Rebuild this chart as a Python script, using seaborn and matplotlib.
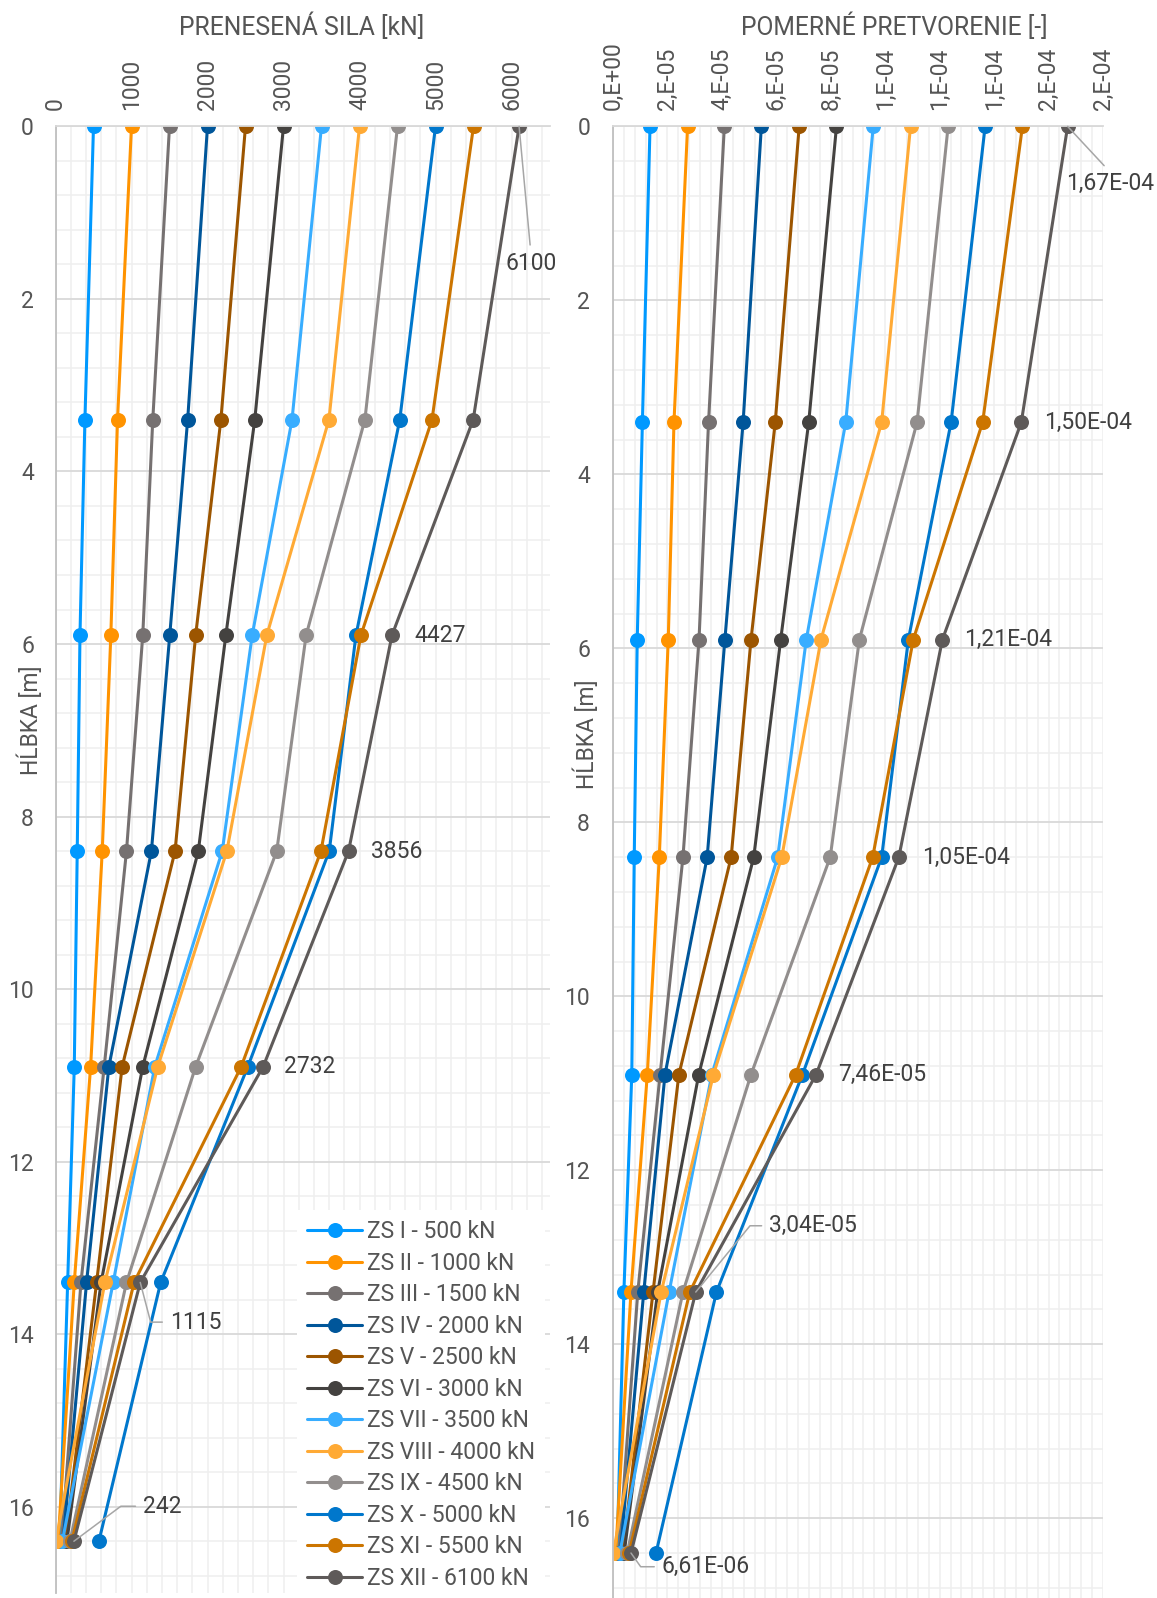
import matplotlib
matplotlib.use("Agg")
import matplotlib.pyplot as plt
from matplotlib.ticker import MultipleLocator, FuncFormatter
from matplotlib.lines import Line2D
import pandas as pd
import seaborn as sns

# ---- data -------------------------------------------------------------
depth = [0, 3.4, 5.9, 8.4, 10.9, 13.4, 16.4]

series = ["ZS I - 500 kN", "ZS II - 1000 kN", "ZS III - 1500 kN", "ZS IV - 2000 kN",
          "ZS V - 2500 kN", "ZS VI - 3000 kN", "ZS VII - 3500 kN", "ZS VIII - 4000 kN",
          "ZS IX - 4500 kN", "ZS X - 5000 kN", "ZS XI - 5500 kN", "ZS XII - 6100 kN"]

colors = ["#0099FF", "#FF9300", "#767171", "#00569A", "#9C5500", "#444240",
          "#38ADFF", "#FFAA35", "#928E8D", "#0077CC", "#CC7500", "#5E5A59"]

# transferred force [kN] per load step
sila_1 = [500, 387, 322, 286, 247, 160, 55]
sila_2 = [1000, 816, 728, 615, 462, 247, 35]
sila_3 = [1500, 1280, 1148, 934, 641, 335, 80]
sila_4 = [2000, 1739, 1503, 1262, 702, 409, 100]
sila_5 = [2500, 2176, 1844, 1573, 877, 541, 130]
sila_6 = [3000, 2622, 2241, 1879, 1148, 600, 150]
sila_7 = [3500, 3112, 2588, 2194, 1306, 759, 90]
sila_8 = [4000, 3598, 2780, 2255, 1345, 650, 5]
sila_9 = [4500, 4071, 3297, 2911, 1844, 934, 190]
sila_10 = [5000, 4530, 3953, 3602, 2530, 1384, 571]
sila_11 = [5500, 4954, 4018, 3493, 2443, 1034, 215]
sila_12 = [6100, 5496, 4427, 3856, 2732, 1115, 242]

# relative strain [-] per load step
pretv_1 = [1.36e-5, 1.08e-5, 0.89e-5, 0.78e-5, 0.69e-5, 0.40e-5, 0.15e-5]
pretv_2 = [2.74e-5, 2.24e-5, 2.03e-5, 1.70e-5, 1.26e-5, 0.66e-5, 0.10e-5]
pretv_3 = [4.09e-5, 3.51e-5, 3.16e-5, 2.57e-5, 1.73e-5, 0.91e-5, 0.22e-5]
pretv_4 = [5.45e-5, 4.78e-5, 4.11e-5, 3.46e-5, 1.91e-5, 1.13e-5, 0.27e-5]
pretv_5 = [6.84e-5, 5.96e-5, 5.07e-5, 4.34e-5, 2.42e-5, 1.47e-5, 0.36e-5]
pretv_6 = [8.21e-5, 7.19e-5, 6.16e-5, 5.17e-5, 3.15e-5, 1.64e-5, 0.41e-5]
pretv_7 = [9.56e-5, 8.55e-5, 7.10e-5, 6.05e-5, 3.63e-5, 2.06e-5, 0.25e-5]
pretv_8 = [10.93e-5, 9.87e-5, 7.64e-5, 6.20e-5, 3.69e-5, 1.77e-5, 0.01e-5]
pretv_9 = [12.31e-5, 11.17e-5, 9.05e-5, 7.98e-5, 5.07e-5, 2.57e-5, 0.52e-5]
pretv_10 = [13.67e-5, 12.42e-5, 10.85e-5, 9.87e-5, 6.96e-5, 3.80e-5, 1.58e-5]
pretv_11 = [15.04e-5, 13.58e-5, 11.03e-5, 9.54e-5, 6.71e-5, 2.82e-5, 0.59e-5]
pretv_12 = [1.67e-4, 1.50e-4, 1.21e-4, 1.05e-4, 7.46e-5, 3.04e-5, 6.61e-6]

sila = [sila_1, sila_2, sila_3, sila_4, sila_5, sila_6,
        sila_7, sila_8, sila_9, sila_10, sila_11, sila_12]
pretv = [pretv_1, pretv_2, pretv_3, pretv_4, pretv_5, pretv_6,
         pretv_7, pretv_8, pretv_9, pretv_10, pretv_11, pretv_12]

rows = []
for name, f_vals, e_vals in zip(series, sila, pretv):
    for d, f, e in zip(depth, f_vals, e_vals):
        rows.append({"zs": name, "hlbka": d, "sila": f, "pretvorenie": e})
df = pd.DataFrame(rows)

# ---- style ------------------------------------------------------------
sns.set_theme(style="white")
plt.rcParams["font.family"] = ["Roboto", "DejaVu Sans"]

W, H = 1157, 1598
DPI = 100
PX = 72.0 / DPI  # points per pixel

TEXT = "#555555"
LABEL = "#404040"
LEADER = "#A6A6A6"
GRID_MAJOR = "#D9D9D9"
GRID_MINOR = "#EFEFEF"

fig = plt.figure(figsize=(W / DPI, H / DPI), dpi=DPI)
fig.patch.set_facecolor("white")

axL = fig.add_axes([55.5 / W, (H - 1593) / H, 494 / W, (1593 - 126.4) / H])
axR = fig.add_axes([613 / W, 0.0, 490 / W, (H - 126.4) / H])

palette = dict(zip(series, colors))
line_kw = dict(hue="zs", hue_order=series, palette=palette, sort=False,
               estimator=None, marker="o", markersize=10.8, markeredgewidth=0,
               linewidth=2.2, legend=False)

sns.lineplot(data=df, x="sila", y="hlbka", ax=axL, **line_kw)
sns.lineplot(data=df, x="pretvorenie", y="hlbka", ax=axR, **line_kw)


def style_axis(ax, xmax, xmajor, xminor, ymax, ypad):
    ax.set_xlim(0, xmax)
    ax.set_ylim(ymax, 0)
    ax.set_xlabel("")
    ax.set_ylabel("")
    ax.xaxis.set_major_locator(MultipleLocator(xmajor))
    ax.xaxis.set_minor_locator(MultipleLocator(xminor))
    ax.yaxis.set_major_locator(MultipleLocator(2))
    ax.yaxis.set_minor_locator(MultipleLocator(0.4))
    ax.set_axisbelow(True)
    ax.grid(which="minor", color=GRID_MINOR, linewidth=1.1)
    ax.grid(which="major", axis="x", color=GRID_MINOR, linewidth=1.1)
    ax.grid(which="major", axis="y", color=GRID_MAJOR, linewidth=1.3)
    for s in ax.spines.values():
        s.set_visible(False)
    ax.spines["left"].set_visible(True)
    ax.spines["left"].set_color("#BFBFBF")
    ax.spines["left"].set_linewidth(1.3)
    ax.spines["top"].set_visible(True)
    ax.spines["top"].set_color(GRID_MAJOR)
    ax.spines["top"].set_linewidth(1.3)
    ax.tick_params(axis="x", which="both", top=True, bottom=False, labeltop=True,
                   labelbottom=False, length=0, pad=12, labelrotation=90,
                   labelsize=16.5, labelcolor=TEXT)
    ax.tick_params(axis="y", which="both", length=0, pad=ypad, labelsize=16.5,
                   labelcolor=TEXT)


style_axis(axL, 6500, 1000, 200, 17.0, 15.5)
style_axis(axR, 1.8e-4, 2e-5, 4e-6, (H - 126.4) / 86.99, 16.5)

axL.xaxis.set_major_formatter(FuncFormatter(lambda v, p: f"{v:.0f}"))
axR.xaxis.set_major_formatter(
    FuncFormatter(lambda v, p: f"{v:.0E}".replace("E", ",E")))

# ---- titles -----------------------------------------------------------
fig.text(301.7 / W, 1 - 26.5 / H, "PRENESENÁ SILA [kN]", ha="center", va="center",
         fontsize=17.8, color=TEXT)
fig.text(894 / W, 1 - 26.5 / H, "POMERNÉ PRETVORENIE [-]", ha="center", va="center",
         fontsize=17.8, color=TEXT)
fig.text(30.6 / W, 1 - 720.5 / H, "HĹBKA [m]", ha="center", va="center",
         rotation=90, fontsize=16.5, color=TEXT)
fig.text(586 / W, 1 - 734 / H, "HĹBKA [m]", ha="center", va="center",
         rotation=90, fontsize=16.5, color=TEXT)


# ---- data labels of the last load step --------------------------------
def data_label(ax, x, y, text, dx, dy, leader=None, ha="left", relpos=(0, 0.5)):
    """dx, dy in pixels, dy positive downwards."""
    kw = dict(xy=(x, y), xycoords="data", xytext=(dx * PX, -dy * PX),
              textcoords="offset points", ha=ha, va="center", fontsize=16.5,
              color=LABEL)
    if leader is not None:
        kw["arrowprops"] = dict(arrowstyle="-", color=LEADER, lw=1.1,
                                shrinkA=3, shrinkB=0, relpos=relpos,
                                connectionstyle=leader)
    ax.annotate(text, **kw)


f_last = sila_12
e_last = pretv_12

data_label(axL, f_last[0], depth[0], f"{f_last[0]:.0f}", 11.7, 137.5,
           leader="arc3", ha="center", relpos=(0.5, 1.0))
data_label(axL, f_last[2], depth[2], f"{f_last[2]:.0f}", 22, 0)
data_label(axL, f_last[3], depth[3], f"{f_last[3]:.0f}", 22, 0)
data_label(axL, f_last[4], depth[4], f"{f_last[4]:.0f}", 21, 0)
data_label(axL, f_last[5], depth[5], f"{f_last[5]:.0f}", 29.5, 39.7,
           leader="angle,angleA=0,angleB=-75.3,rad=0")
data_label(axL, f_last[6], depth[6], f"{f_last[6]:.0f}", 69, -35,
           leader="angle,angleA=0,angleB=36.7,rad=0")


def sci(v):
    return f"{v:.2E}".replace(".", ",")


data_label(axR, e_last[0], depth[0], sci(e_last[0]), 42.4, 57.1,
           leader="arc3", ha="center", relpos=(0.5, 1.0))
data_label(axR, e_last[1], depth[1], sci(e_last[1]), 23, 0)
data_label(axR, e_last[2], depth[2], sci(e_last[2]), 22, 0)
data_label(axR, e_last[3], depth[3], sci(e_last[3]), 23, 0)
data_label(axR, e_last[4], depth[4], sci(e_last[4]), 21.6, 0)
data_label(axR, e_last[5], depth[5], sci(e_last[5]), 73.3, -66.3,
           leader="angle,angleA=0,angleB=50.7,rad=0")
data_label(axR, e_last[6], depth[6], sci(e_last[6]), 30.7, 13.7,
           leader="angle,angleA=0,angleB=-54.7,rad=0")

# ---- legend -----------------------------------------------------------
handles = [Line2D([], [], color=c, marker="o", markersize=10.8, markeredgewidth=0,
                  linewidth=2.2) for c in colors]
leg = fig.legend(handles, series, loc="upper left",
                 bbox_to_anchor=(297 / W, 1 - 1210 / H), frameon=True,
                 facecolor="white", edgecolor="none", framealpha=1, fontsize=16.5,
                 labelspacing=0.37, handlelength=2.4, handletextpad=0.2,
                 borderpad=0.45, borderaxespad=0, labelcolor=TEXT)
leg.get_frame().set_boxstyle("square", pad=0)

fig.savefig("out.png", dpi=DPI, facecolor="white")
